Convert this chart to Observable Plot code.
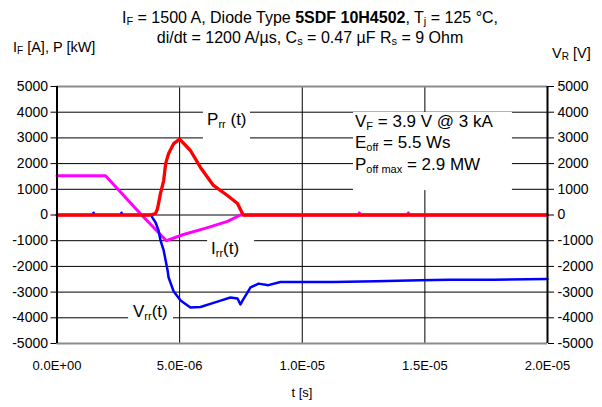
<!DOCTYPE html>
<html>
<head>
<meta charset="utf-8">
<script src="https://cdn.jsdelivr.net/npm/d3@7"></script>
<script src="https://cdn.jsdelivr.net/npm/@observablehq/plot@0.6"></script>
<style>
  html, body { margin: 0; padding: 0; background: white; }
  svg text { font-family: "Liberation Sans", Arial, sans-serif; }
</style>
</head>
<body>
<div id="chart"></div>
<script>
// Axis ticks
const xTicks = [0, 5e-6, 1e-5, 1.5e-5, 2e-5];
const yTicks = [-5000, -4000, -3000, -2000, -1000, 0, 1000, 2000, 3000, 4000, 5000];

// Irr(t) – current [A]
const irrTime = [0, 1.98e-6, 3.45e-6, 4.46e-6, 5.16e-6, 6.14e-6, 6.95e-6, 7.48e-6, 1.228e-5, 1.233e-5, 1.238e-5, 1.428e-5, 1.433e-5, 1.438e-5, 2e-5];
const irrValue = [1530, 1530, 0, -1000, -760, -490, -250, 0, 0, 80, 0, 0, 80, 0, 0];

// Vrr(t) – voltage [V]
const vrrTime = [0, 1.45e-6, 1.49e-6, 1.53e-6, 2.59e-6, 2.63e-6, 2.67e-6, 3.85e-6, 3.89e-6, 4.02e-6, 4.14e-6, 4.22e-6, 4.35e-6, 4.43e-6, 4.51e-6, 4.55e-6, 4.76e-6, 5.04e-6, 5.44e-6, 5.85e-6, 6.38e-6, 6.67e-6, 7.07e-6, 7.36e-6, 7.48e-6, 7.60e-6, 7.77e-6, 7.89e-6, 8.22e-6, 8.62e-6, 9.11e-6, 9.93e-6, 1.128e-5, 1.30e-5, 1.482e-5, 1.60e-5, 1.78e-5, 2e-5];
const vrrValue = [0, 0, 90, 0, 0, 90, 0, 0, -100, -290, -600, -990, -1380, -1770, -2160, -2430, -2980, -3330, -3600, -3580, -3420, -3330, -3210, -3250, -3480, -3270, -3010, -2820, -2670, -2730, -2610, -2610, -2610, -2580, -2540, -2520, -2520, -2490];

// Prr(t) – power [kW]
const prrTime = [0, 3.81e-6, 4.02e-6, 4.10e-6, 4.22e-6, 4.35e-6, 4.43e-6, 4.55e-6, 4.76e-6, 5.0e-6, 5.44e-6, 5.85e-6, 6.38e-6, 6.95e-6, 7.36e-6, 7.56e-6, 7.60e-6, 2e-5];
const prrValue = [0, 0, 60, 250, 840, 1340, 2000, 2390, 2780, 2950, 2510, 1850, 1150, 760, 450, 60, 0, 0];

// Label boxes (data units): Prr, V_F info, Irr, Vrr
const boxT1 = [5.97e-6, 1.209e-5, 6.14e-6, 2.92e-6];
const boxT2 = [7.89e-6, 1.857e-5, 8.06e-6, 4.75e-6];
const boxV1 = [4450, 3990, -640, -3090];
const boxV2 = [2630, 950, -1930, -4490];

// Label anchors (data units)
const labelTime = [6.14e-6, 6.30e-6, 3.12e-6, 1.217e-5, 1.217e-5, 1.217e-5];
const labelValue = [3480, -1540, -3990, 3420, 2580, 1730];
const labelText = [
  [["P"], ["rr", "sub"], [" (t)"]],
  [["I"], ["rr", "sub"], ["(t)"]],
  [["V"], ["rr", "sub"], ["(t)"]],
  [["V"], ["F", "sub"], [" = 3.9 V @ 3 kA"]],
  [["E"], ["off", "sub"], [" = 5.5 Ws"]],
  [["P"], ["off max", "sub"], [" = 2.9 MW"]]
];

const titleLines = [
  [["I"], ["F", "sub"], [" = 1500 A, Diode Type "], ["5SDF 10H4502", "bold"], [", T"], ["j", "sub"], [" = 125 °C,"]],
  [["di/dt = 1200 A/µs, C"], ["s", "sub"], [" = 0.47 µF R"], ["s", "sub"], [" = 9 Ohm"]]
];
const leftAxisTitle = [["I"], ["F", "sub"], [" [A], P [kW]"]];
const rightAxisTitle = [["V"], ["R", "sub"], [" [V]"]];
const xAxisTitle = [["t [s]"]];

const fmtE = d => {
  const [m, e] = d.toExponential(1).split("e");
  const n = +e;
  return m + "E" + (n < 0 ? "-" : "+") + String(Math.abs(n)).padStart(2, "0");
};

const boxes = boxT1.map((_, i) => i);

const plot = Plot.plot({
  width: 602,
  height: 407,
  marginLeft: 56.5,
  marginRight: 55,
  marginTop: 86,
  marginBottom: 64,
  x: {domain: [0, 2e-5]},
  y: {domain: [-5000, 5000]},
  style: {fontFamily: "Liberation Sans, Arial, sans-serif", fontSize: "13px", color: "black", background: "white"},
  marks: [
    Plot.ruleY(yTicks.slice(1, -1), {stroke: "black", strokeWidth: 1}),
    Plot.ruleX(xTicks.slice(1, -1), {stroke: "black", strokeWidth: 1}),
    Plot.ruleY([yTicks[0], yTicks[yTicks.length - 1]], {stroke: "#8c8c8c", strokeWidth: 2}),
    Plot.rect(boxes, {x1: boxT1, x2: boxT2, y1: boxV1, y2: boxV2, fill: "white"}),
    Plot.line(irrValue, {x: irrTime, y: irrValue, stroke: "#ff00ff", strokeWidth: 3, strokeLinejoin: "round"}),
    Plot.line(vrrValue, {x: vrrTime, y: vrrValue, stroke: "#0000ff", strokeWidth: 2.5, strokeLinejoin: "round"}),
    Plot.line(prrValue, {x: prrTime, y: prrValue, stroke: "#ff0000", strokeWidth: 3.3, strokeLinejoin: "round"}),
    Plot.ruleX([xTicks[0], xTicks[xTicks.length - 1]], {stroke: "black", strokeWidth: 2}),
    Plot.axisY({anchor: "left", ticks: yTicks, tickSize: 6, tickPadding: 3, tickFormat: d => String(d), label: null, fontSize: 14}),
    Plot.axisY({anchor: "right", ticks: yTicks, tickSize: 6, tickPadding: 4, tickFormat: d => String(d), label: null, fontSize: 14}),
    Plot.axisX({ticks: xTicks, tickSize: 0, tickPadding: 17, tickFormat: fmtE, label: null, fontSize: 13})
  ]
});

document.getElementById("chart").appendChild(plot);

const svg = d3.select(plot);
const xs = plot.scale("x");
const ys = plot.scale("y");

function addText(parts, x, y, size, anchor, subSize) {
  const t = svg.append("text")
    .attr("x", x).attr("y", y)
    .attr("text-anchor", anchor)
    .attr("fill", "black")
    .style("font-family", "Liberation Sans, Arial, sans-serif")
    .style("font-size", size + "px");
  let shifted = false;
  const shift = Math.round(size * 0.15);
  parts.forEach(([s, kind]) => {
    const ts = t.append("tspan").text(s);
    if (kind === "sub") {
      ts.style("font-size", subSize + "px");
      if (!shifted) { ts.attr("dy", shift); shifted = true; }
    } else {
      if (shifted) { ts.attr("dy", -shift); shifted = false; }
      if (kind === "bold") ts.style("font-weight", "bold");
    }
  });
  return t;
}

// Titles
addText(titleLines[0], 310, 23, 16, "middle", 11);
addText(titleLines[1], 310, 43, 16, "middle", 11);
addText(leftAxisTitle, 13, 52, 14.5, "start", 10);
addText(rightAxisTitle, 552, 58, 14.5, "start", 10);
addText(xAxisTitle, 302, 397, 13, "middle", 9);

// In-plot labels
labelText.forEach((parts, i) => {
  addText(parts, xs.apply(labelTime[i]), ys.apply(labelValue[i]), 17, "start", 11);
});
</script>
</body>
</html>
